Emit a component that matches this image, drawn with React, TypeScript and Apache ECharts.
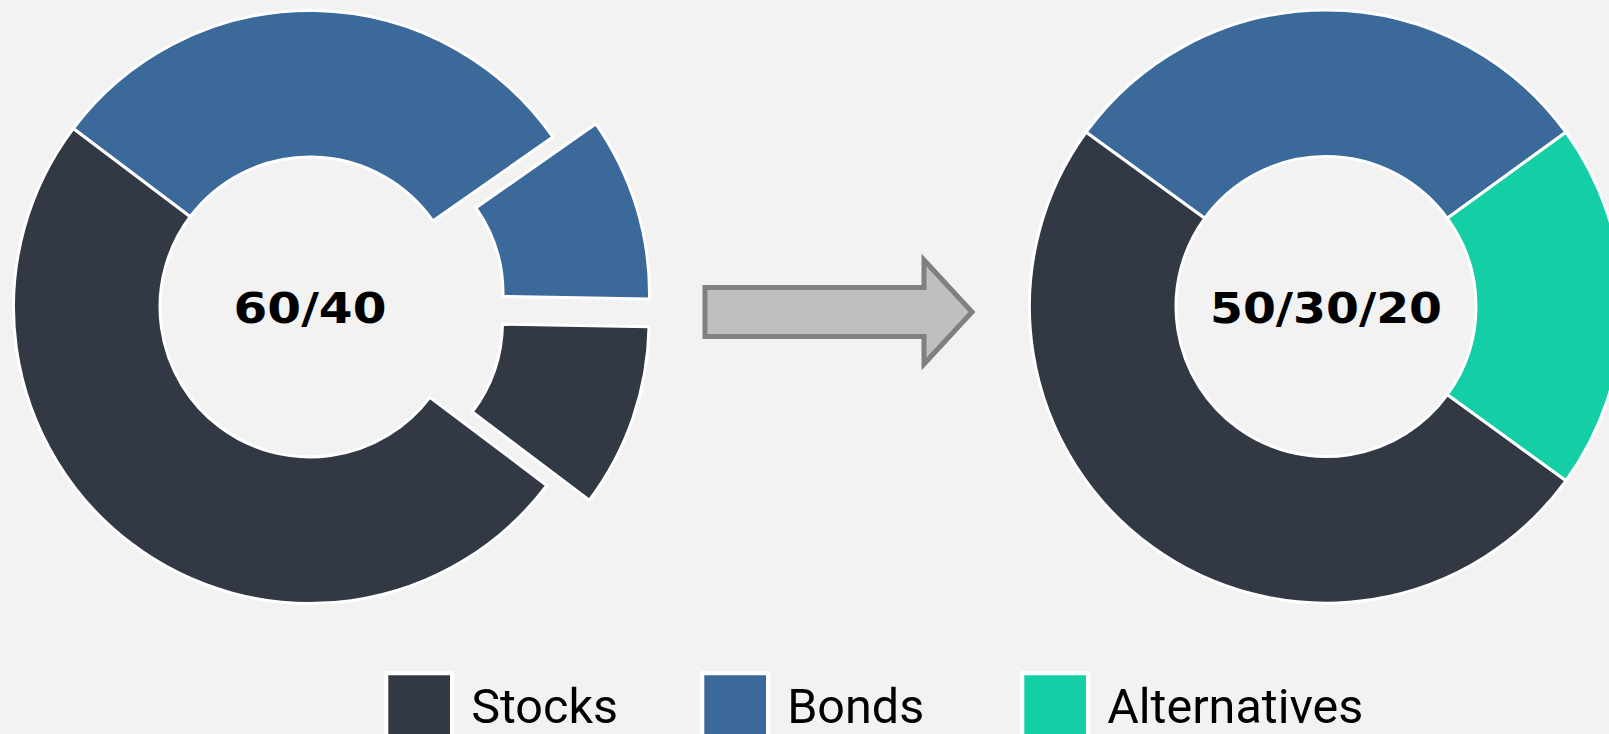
import React, { useEffect, useRef } from "react";
import * as echarts from "echarts";

// ---- data ----
const categories = ["Stocks", "Bonds", "Alternatives"];
const categoryColors = ["#323945", "#3b6a9a", "#14cfa5"];

// current 60/40 portfolio, split into the parts kept and the parts moved to alternatives
const currentKeptBonds = 30;
const currentMovedBonds = 10;
const currentMovedStocks = 10;
const currentKeptStocks = 50;
const currentLabel = "60/40";

// target 50/30/20 portfolio (Stocks, Bonds, Alternatives)
const targetValues = [50, 30, 20];
const targetLabel = "50/30/20";

// ---- layout ----
const W = 1609;
const H = 734;
const RADIUS = [150, 296.5];
const LEFT_CENTER = [310, 307];
const RIGHT_CENTER = [1326, 306.5];
const LEGEND_LEFTS = [384, 700, 1020];

export default function App() {
  const ref = useRef<HTMLDivElement>(null);

  useEffect(() => {
    document.body.style.margin = "0";
    document.body.style.background = "#f2f2f2";
    if (!ref.current) return;
    const chart = echarts.init(ref.current, null, { renderer: "svg" });

    const c = (name: string) => categoryColors[categories.indexOf(name)];

    const pieCommon = {
      type: "pie",
      radius: RADIUS,
      clockwise: true,
      silent: true,
      selectedMode: "multiple",
      selectedOffset: 45,
      label: { show: false },
      labelLine: { show: false },
      emphasis: { disabled: true },
      itemStyle: { borderColor: "#ffffff", borderWidth: 3 },
    };

    const option = {
      animation: false,
      backgroundColor: "#f2f2f2",
      legend: categories.map((name, i) => ({
        data: [name],
        left: LEGEND_LEFTS[i],
        top: 671,
        padding: 0,
        orient: "horizontal",
        icon: "rect",
        itemWidth: 66,
        itemHeight: 66,
        selectedMode: false,
        itemStyle: { borderColor: "#ffffff", borderWidth: 4.3 },
        textStyle: {
          fontFamily: "Roboto",
          fontSize: 48.5,
          color: "#000000",
          padding: [0, 0, 0, 14],
        },
      })),
      series: [
        {
          ...pieCommon,
          name: "Current",
          center: LEFT_CENTER,
          startAngle: 143,
          data: [
            { name: "Bonds", value: currentKeptBonds, itemStyle: { color: c("Bonds") } },
            {
              name: "Bonds to Alternatives",
              value: currentMovedBonds,
              selected: true,
              itemStyle: { color: c("Bonds") },
              select: { itemStyle: { color: c("Bonds"), borderColor: "#ffffff", borderWidth: 3 } },
            },
            {
              name: "Stocks to Alternatives",
              value: currentMovedStocks,
              selected: true,
              itemStyle: { color: c("Stocks") },
              select: { itemStyle: { color: c("Stocks"), borderColor: "#ffffff", borderWidth: 3 } },
            },
            { name: "Stocks", value: currentKeptStocks, itemStyle: { color: c("Stocks") } },
          ],
        },
        {
          ...pieCommon,
          name: "Target",
          center: RIGHT_CENTER,
          startAngle: 144,
          data: [
            { name: "Bonds", value: targetValues[1], itemStyle: { color: c("Bonds") } },
            { name: "Alternatives", value: targetValues[2], itemStyle: { color: c("Alternatives") } },
            { name: "Stocks", value: targetValues[0], itemStyle: { color: c("Stocks") } },
          ],
        },
      ],
      graphic: [
        {
          type: "polygon",
          shape: {
            points: [
              [705, 287.5],
              [924, 287.5],
              [924, 260],
              [972, 312],
              [924, 364],
              [924, 336.5],
              [705, 336.5],
            ],
          },
          style: { fill: "#bfbfbf", stroke: "#808080", lineWidth: 5 },
          silent: true,
        },
        {
          type: "text",
          x: LEFT_CENTER[0],
          y: 308.5,
          scaleX: 1.13,
          silent: true,
          style: {
            text: currentLabel,
            fill: "#000000",
            fontFamily: "DejaVu Sans",
            fontWeight: "bold",
            fontSize: 43,
            textAlign: "center",
            textVerticalAlign: "middle",
            align: "center",
            verticalAlign: "middle",
          },
        },
        {
          type: "text",
          x: RIGHT_CENTER[0],
          y: 308.5,
          scaleX: 1.1,
          silent: true,
          style: {
            text: targetLabel,
            fill: "#000000",
            fontFamily: "DejaVu Sans",
            fontWeight: "bold",
            fontSize: 43,
            textAlign: "center",
            textVerticalAlign: "middle",
            align: "center",
            verticalAlign: "middle",
          },
        },
      ],
    };

    chart.setOption(option as any);
    return () => chart.dispose();
  }, []);

  return (
    <div
      ref={ref}
      style={{ position: "fixed", left: 0, top: 0, width: W, height: H, background: "#f2f2f2" }}
    />
  );
}
